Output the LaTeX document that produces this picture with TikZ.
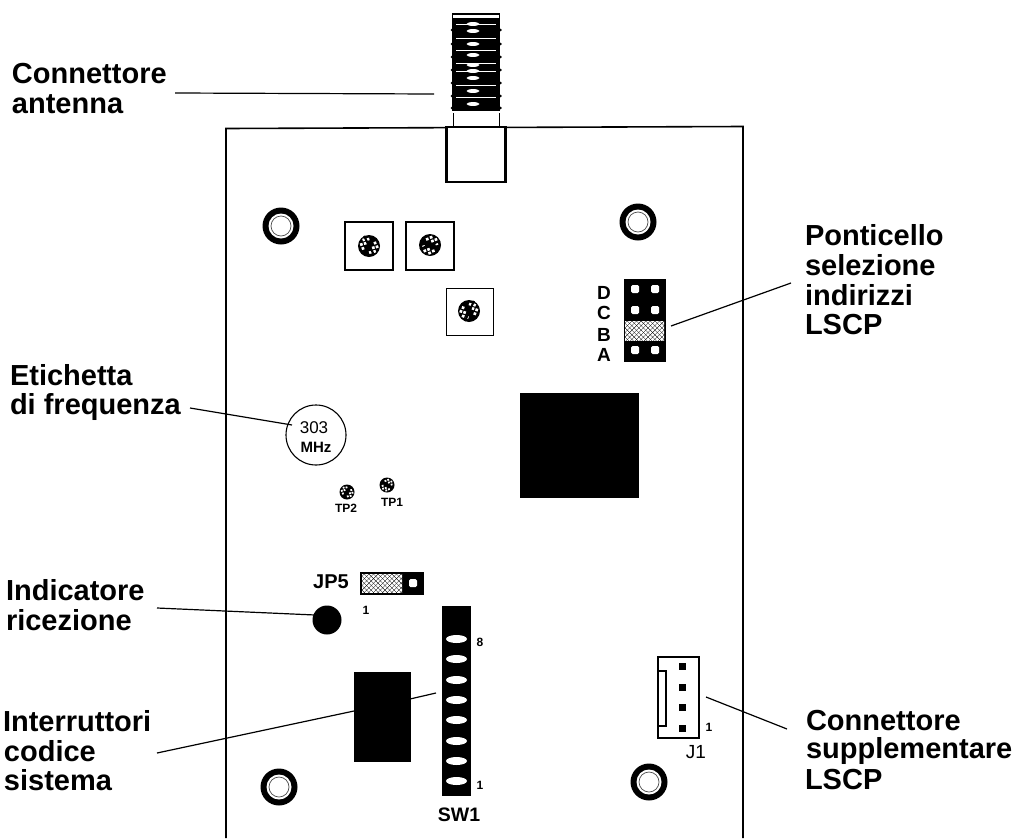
\documentclass[tikz,border=0pt]{standalone}
\usepackage{fontspec}
\setmainfont{Liberation Sans}
\tikzset{
  lab/.style={anchor=base west,inner sep=0pt,outer sep=0pt,font=\fontsize{29}{29}\selectfont\bfseries},
  small/.style={inner sep=0pt,font=\fontsize{19}{19}\selectfont\bfseries},
  tiny/.style={inner sep=0pt,font=\fontsize{12}{12}\selectfont\bfseries},
  leader/.style={draw=black,line width=1.2pt},
  edge/.style={draw=black,line width=1.6pt},
  blk/.style={fill=black,draw=black,line width=0.6pt},
  hole/.style={fill=white,draw=none,rounded corners=1.5pt},
}
\newcommand{\standoff}[2]{%
  \fill[black] (#1,#2) circle (18.5);
  \fill[white] (#1,#2) circle (12.5);
  \draw[black!70,line width=0.7pt] (#1,#2) circle (10);
}
\newcommand{\trimdisc}[4]{% x y r angle (slot direction)
  \fill[black] (#1,#2) circle (#3);
  \begin{scope}[shift={(#1,#2)},rotate=#4]
    \foreach \u/\v in {-0.45/0.38,0.05/0.42,0.5/0.36,-0.2/0.68,0.28/0.68,-0.45/-0.38,0.05/-0.42,0.5/-0.36,-0.2/-0.68,0.28/-0.68}
      \fill[white] (\u*#3,\v*#3) circle (0.17*#3);
  \end{scope}
}
\newcommand{\stipple}[4]{% x1 y1 x2 y2
  \fill[black] (#1,#2) rectangle (#3,#4);
  \begin{scope}
    \clip (#1,#2) rectangle (#3,#4);
    \foreach \i in {0,...,12} \foreach \j in {0,...,6} {
      \fill[white] ({#1+\i*4.6},{#2+\j*4.6}) circle (1.9);
      \fill[white] ({#1+(\i+0.5)*4.6},{#2+(\j+0.5)*4.6}) circle (1.9);
    }
  \end{scope}
}
\begin{document}
\begin{tikzpicture}[x=1pt,y=-1pt]
\useasboundingbox (0,0) rectangle (1017,838);
\fill[white] (0,0) rectangle (1017,838);
% antenna connector
\fill[black] (452,13) rectangle (500,111);
\foreach \yy in {30,44,57,70,83,96,108} {
  \fill[black] (452,\yy) circle (1.4);
  \fill[black] (500.5,\yy) circle (1.4);
}
\fill[white] (453,15) rectangle (499,18);
\foreach \yy in {24,38,50,63,71,85,97}
  \fill[white] (456,\yy) rectangle (496,\yy+0.7);
\foreach \yy in {24,31,44,55,65,71,78,91,104}
  \fill[white] (473,\yy) ellipse (6.5 and 1.9);
% collar
\draw[line width=1pt] (453.5,113) -- (453.5,127);
\draw[line width=1pt] (499,113) -- (499,127);
% board
\draw[edge] (226,838) -- (226,128.5) -- (743,126.5) -- (743,838);
\node[draw=black,line width=2.2pt,fill=white,minimum width=59pt,minimum height=55pt,inner sep=0pt] (sq) at (476,154.5) {};
\draw[edge] (430,127.5) -- (530,127.5);
% standoffs
\standoff{281}{226}
\standoff{638}{222}
\standoff{279}{787}
\standoff{649}{782}
% trimmers
\node[draw,line width=1.1pt,minimum size=48pt,inner sep=0pt] (tr1) at (369,246) {};
\node[draw,line width=1.1pt,minimum size=48pt,inner sep=0pt] (tr2) at (430,246) {};
\node[draw,line width=1.1pt,minimum size=47pt,inner sep=0pt] (tr3) at (470,312) {};
\trimdisc{369}{246}{11}{62}
\draw[black,line width=2pt] (364,236) -- (374,255);
\trimdisc{430}{245}{11}{-25}
\draw[black,line width=2pt] (420,249) -- (440,241);
\trimdisc{469}{311}{11}{115}
\draw[black,line width=2pt] (474,301) -- (465,321);
% address jumper block
\node[blk,minimum width=41pt,minimum height=82pt,inner sep=0pt] (jblock) at (644.5,320) {};
\foreach \xx in {635,655} \foreach \yy in {289,310,350}
  \fill[hole] (\xx-4,\yy-4) rectangle (\xx+4,\yy+4);
\stipple{625}{321}{664}{340}
\node[small] (lD) at (604,293) {D};
\node[small] (lC) at (604,313) {C};
\node[small] (lB) at (604,335) {B};
\node[small] (lA) at (604,355) {A};
% IC
\node[blk,minimum width=118pt,minimum height=104pt,inner sep=0pt] (ic) at (579,445) {};
% frequency label
\node[draw,circle,line width=1.1pt,minimum size=60pt,inner sep=0pt] (freq) at (316,435) {};
\node[inner sep=0pt,font=\fontsize{17}{17}\selectfont] (f303) at (314,428) {303};
\node[inner sep=0pt,font=\fontsize{15}{15}\selectfont\bfseries] (fmhz) at (316,447) {MHz};
% test points
\trimdisc{347}{492}{7.5}{60}
\trimdisc{387}{485}{7.5}{-30}
\node[tiny] (tp2) at (346,508) {TP2};
\node[tiny] (tp1) at (392,502) {TP1};
% JP5
\node[blk,minimum width=63pt,minimum height=22pt,inner sep=0pt] (jp5) at (391.5,583) {};
\stipple{362}{574}{402}{592}
\fill[hole] (409,579) rectangle (417,587);
\node[inner sep=0pt,font=\fontsize{20}{20}\selectfont\bfseries] (jp5t) at (331,582) {JP5};
\node[tiny] (one1) at (366,610) {1};
% LED
\node[circle,fill=black,minimum size=29pt,inner sep=0pt] (led) at (327,620) {};
% dip switch body
\node[blk,minimum width=56pt,minimum height=89pt,inner sep=0pt] (dip) at (382,716.5) {};
% SW1
\node[blk,minimum width=28pt,minimum height=189pt,inner sep=0pt] (sw) at (456,700.5) {};
\foreach \yy in {639,659,680,700,720,741,761,781}
  \fill[white] (456.5,\yy) ellipse (10.5 and 4);
\node[tiny] (s8) at (480,642) {8};
\node[tiny] (s1) at (480,785) {1};
\node[inner sep=0pt,font=\fontsize{19.5}{19.5}\selectfont\bfseries] (swt) at (459,815) {SW1};
% J1
\node[draw,line width=1.1pt,minimum width=41pt,minimum height=81pt,inner sep=0pt] (j1) at (678.5,697.5) {};
\draw[line width=1.1pt] (659,671) -- (666,671) -- (666,726) -- (659,726);
\foreach \yy in {666,687,707,728}
  \fill[black] (682,\yy) ++(-3.5,-3.5) rectangle ++(7,7);
\node[tiny] (j11) at (709,727) {1};
\node[inner sep=0pt,font=\fontsize{19}{19}\selectfont] (j1t) at (696,752) {J1};
% labels
\node[lab] (a1) at (12,83) {Connettore};
\node[lab] (a2) at (12,113) {antenna};
\node[lab] (b1) at (805,245) {Ponticello};
\node[lab] (b2) at (805,275) {selezione};
\node[lab] (b3) at (805,305) {indirizzi};
\node[lab] (b4) at (805,334) {LSCP};
\node[lab] (c1) at (10,385) {Etichetta};
\node[lab] (c2) at (10,414) {di frequenza};
\node[lab] (d1) at (6,600) {Indicatore};
\node[lab] (d2) at (6,630) {ricezione};
\node[lab] (e1) at (3,731) {Interruttori};
\node[lab] (e2) at (4,761) {codice};
\node[lab] (e3) at (4,790) {sistema};
\node[lab] (f1) at (806,730) {Connettore};
\node[lab] (f2) at (806,758) {supplementare};
\node[lab] (f3) at (805,789) {LSCP};
% leaders
\coordinate (la1) at (175,93);   \coordinate (la2) at (434,94);
\coordinate (lb1) at (671,326);  \coordinate (lb2) at (791,283);
\coordinate (lc1) at (190,408);  \coordinate (lc2) at (292,425);
\coordinate (ld1) at (157,608);  \coordinate (ld2) at (315,615);
\coordinate (le1) at (157,753);  \coordinate (le2) at (354,711);
\coordinate (le3) at (410,699);  \coordinate (le4) at (436,693);
\coordinate (lf1) at (706,697);  \coordinate (lf2) at (787,729);
\draw[leader] (la1) -- (la2);
\draw[leader] (lb1) -- (lb2);
\draw[leader] (lc1) -- (lc2);
\draw[leader] (ld1) -- (ld2);
\draw[leader] (le1) -- (le2);
\draw[leader] (le3) -- (le4);
\draw[leader] (lf1) -- (lf2);
\end{tikzpicture}
\end{document}
